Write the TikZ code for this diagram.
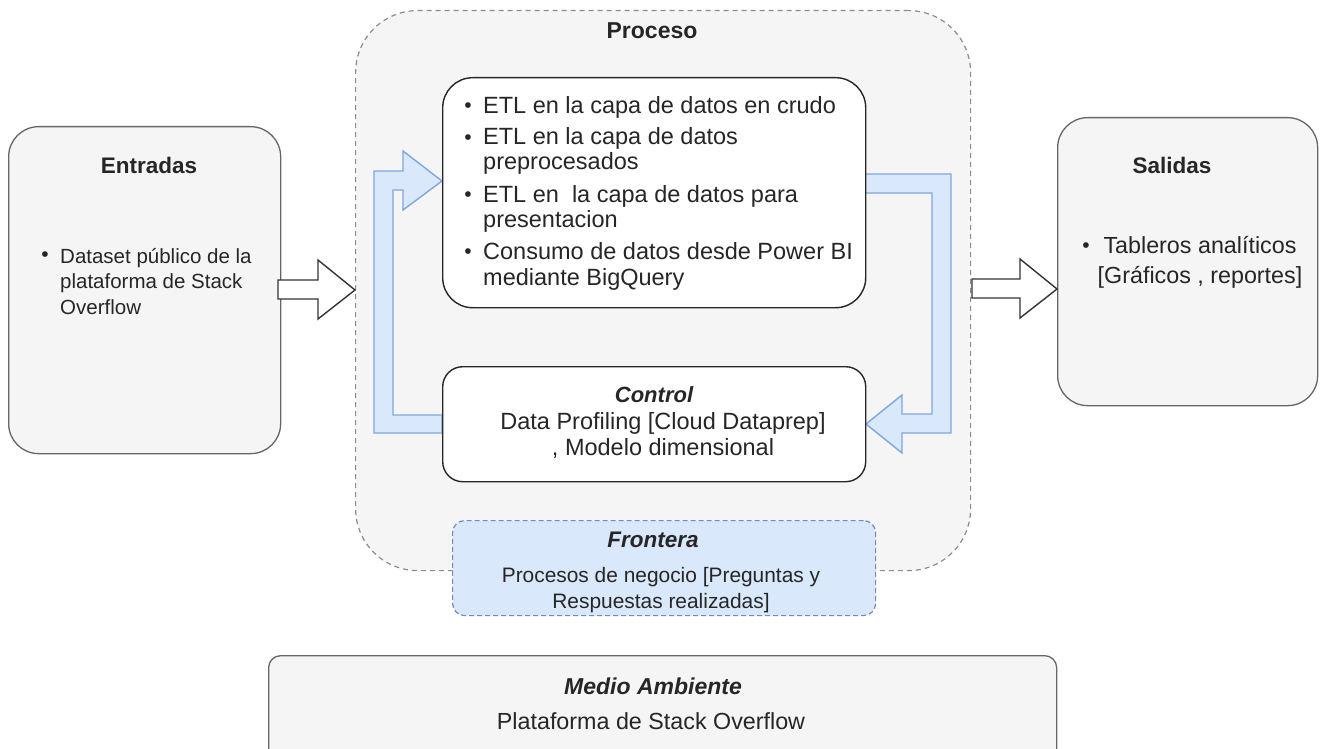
\documentclass[tikz,border=0pt]{standalone}
\usepackage{fontspec}
\setmainfont{Liberation Sans}
\definecolor{gfill}{HTML}{F5F5F5}
\definecolor{gline}{HTML}{666666}
\definecolor{dline}{HTML}{8C8C8C}
\definecolor{bfill}{HTML}{DAE8FC}
\definecolor{bline}{HTML}{6C8EBF}
\definecolor{aline}{HTML}{7EA6E0}
\newcommand{\fsz}[2]{\fontsize{#1pt}{#2pt}\selectfont}
\begin{document}
\begin{tikzpicture}[x=1pt,y=-1pt,
  graybox/.style={draw=gline, fill=gfill, line width=1.3pt, anchor=north west, inner sep=0pt},
  whitebox/.style={draw=black!85, fill=white, line width=1.4pt, anchor=north west, inner sep=0pt},
  txt/.style={inner sep=0pt, text=black!85},
  bul/.style={inner sep=0pt, text=black!85, font=\fsz{21}{21}},
  blockarrow/.style={draw=black!80, fill=white, line width=1.4pt, line join=miter},
  looparrow/.style={draw=aline, fill=bfill, line width=1.4pt, line join=miter}]
\clip (0,0) rectangle (1322,749);
\fill[white] (0,0) rectangle (1322,749);

% Proceso container
\node[draw=dline, fill=gfill, line width=1.2pt, dash pattern=on 5pt off 4pt,
  rounded corners=62pt, anchor=north west, inner sep=0pt,
  minimum width=615pt, minimum height=560pt] (proc) at (355,10) {};
\node[txt, font=\fsz{23}{24}\bfseries] (proct) at (652,31) {Proceso};

% Entradas
\node[graybox, rounded corners=30pt, minimum width=272pt, minimum height=327pt] (ent) at (8,126) {};
\node[txt, font=\fsz{22.5}{24}\bfseries] (entt) at (149,165) {Entradas};
\node[bul] (entb) at (45,257) {•};
\node[txt, anchor=west, align=left, font=\fsz{20.5}{25.5}] (entx) at (60,281.5)
  {Dataset público de la\\plataforma de Stack\\Overflow};

% Salidas
\node[graybox, rounded corners=30pt, minimum width=260pt, minimum height=288pt] (sal) at (1057,117) {};
\node[txt, font=\fsz{22.5}{24}\bfseries] (salt) at (1172,165) {Salidas};
\node[bul] (salb) at (1086,248) {•};
\node[txt, align=center, font=\fsz{23.3}{30}] (salx) at (1200,262)
  {Tableros analíticos\\{}[Gráficos , reportes]};

% block arrows
\draw[blockarrow] (278,280) -- (318,280) -- (318,260) -- (355,290) -- (318,319) -- (318,299) -- (278,299) -- cycle;
\draw[blockarrow] (972,279) -- (1020,279) -- (1020,259) -- (1057,289) -- (1020,318) -- (1020,298) -- (972,298) -- cycle;

% loop arrows
\draw[looparrow] (442,433) -- (374,433) -- (374,171) -- (403,171) -- (403,151) -- (442,181)
  -- (403,210) -- (403,190) -- (393,190) -- (393,415) -- (442,415) -- cycle;
\draw[looparrow] (865,174) -- (951,174) -- (951,433) -- (902,433) -- (902,453) -- (866,424)
  -- (902,395) -- (902,414) -- (932,414) -- (932,193) -- (865,193) -- cycle;

% ETL box
\node[whitebox, rounded corners=30pt, minimum width=423pt, minimum height=230pt] (etl) at (442,77) {};
\node[bul] (b1) at (468,108) {•};
\node[txt, anchor=west, font=\fsz{23.5}{24.5}] (e1) at (483,107) {ETL en la capa de datos en crudo};
\node[bul] (b2) at (468,140) {•};
\node[txt, anchor=west, align=left, font=\fsz{23.5}{24.5}] (e2) at (483,151) {ETL en la capa de datos\\preprocesados};
\node[bul] (b3) at (468,197) {•};
\node[txt, anchor=west, align=left, font=\fsz{23.5}{25}] (e3) at (483,208.5) {ETL en\ \ la capa de datos para\\presentacion};
\node[bul] (b4) at (468,254) {•};
\node[txt, anchor=west, align=left, font=\fsz{23.5}{26}] (e4) at (483,266) {Consumo de datos desde Power BI\\mediante BigQuery};

% Control box
\node[whitebox, rounded corners=20pt, minimum width=423pt, minimum height=115pt] (ctl) at (442,366) {};
\node[txt, font=\fsz{22}{24}\bfseries\itshape] (ctlt) at (654,395) {Control};
\node[txt, align=center, font=\fsz{23.5}{26}] (ctlx) at (663,435)
  {Data Profiling [Cloud Dataprep]\\, Modelo dimensional};

% Frontera
\node[draw=bline, fill=bfill, line width=1.2pt, dash pattern=on 5pt off 3pt,
  rounded corners=12pt, anchor=north west, inner sep=0pt,
  minimum width=423pt, minimum height=95pt] (fro) at (452,520) {};
\node[txt, font=\fsz{22.5}{24}\bfseries\itshape] (frot) at (653,540) {Frontera};
\node[txt, align=center, font=\fsz{20.9}{26}] (frox) at (661,590)
  {Procesos de negocio [Preguntas y\\Respuestas realizadas]};

% Medio Ambiente
\node[graybox, rounded corners=12pt, minimum width=788pt, minimum height=110pt] (med) at (268,655) {};
\node[txt, font=\fsz{23}{24}\bfseries\itshape] (medt) at (653,686) {Medio Ambiente};
\node[txt, font=\fsz{23.3}{24}] (medx) at (651,721) {Plataforma de Stack Overflow};
\end{tikzpicture}
\end{document}
